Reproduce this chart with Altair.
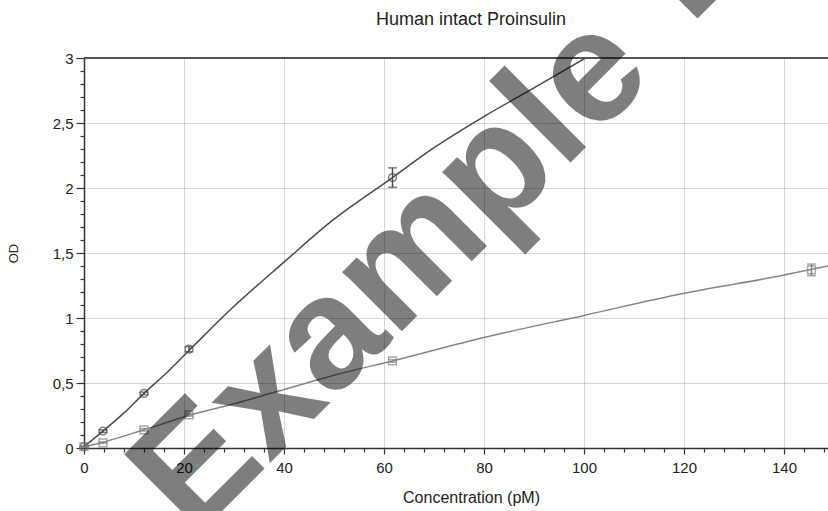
import altair as alt
import pandas as pd

# Measured points (circles = series 1, squares = series 2)
s1_x = [0, 3.8, 12, 21, 61.7]
s1_y = [0.01, 0.13, 0.42, 0.76, 2.08]
s1_err = [0.005, 0.01, 0.01, 0.02, 0.075]

s2_x = [0, 3.8, 12, 21, 61.7, 145.5]
s2_y = [0.01, 0.04, 0.14, 0.255, 0.67, 1.37]
s2_err = [0.005, 0.005, 0.01, 0.01, 0.01, 0.045]

# Fitted curves
fit1_x = [0, 3.8, 8, 12, 16, 21, 30, 40, 50, 61.7, 70, 80, 90, 100.3]
fit1_y = [0.01, 0.13, 0.27, 0.42, 0.56, 0.75, 1.09, 1.43, 1.76, 2.08, 2.31, 2.55, 2.77, 3.0]
fit2_x = [0, 3.8, 12, 21, 30, 40, 50, 61.7, 80, 100, 120, 140, 148.8]
fit2_y = [0.01, 0.045, 0.14, 0.25, 0.34, 0.45, 0.56, 0.67, 0.85, 1.02, 1.19, 1.33, 1.40]

x_ticks = list(range(0, 149, 4))
y_ticks = [round(i * 0.1, 1) for i in range(31)]

title_text = "Human intact Proinsulin"
x_title = "Concentration (pM)"
y_title = "OD"
watermark_1 = "Example"
watermark_2 = "Data"

FONT = "Liberation Sans"

p1 = pd.DataFrame({"x": s1_x, "y": s1_y, "lo": [a - b for a, b in zip(s1_y, s1_err)], "hi": [a + b for a, b in zip(s1_y, s1_err)]})
p2 = pd.DataFrame({"x": s2_x, "y": s2_y, "lo": [a - b for a, b in zip(s2_y, s2_err)], "hi": [a + b for a, b in zip(s2_y, s2_err)]})
f1 = pd.DataFrame({"x": fit1_x, "y": fit1_y})
f2 = pd.DataFrame({"x": fit2_x, "y": fit2_y})

xs = alt.Scale(domain=[0, 148.8], nice=False, zero=False)
ys = alt.Scale(domain=[0, 3], nice=False, zero=False)

x_axis = alt.Axis(
    values=x_ticks,
    tickCount=500,
    title=x_title,
    labelExpr="datum.value % 20 === 0 ? toString(datum.value) : ''",
    labelOverlap=False,
    labelFlush=False,
    labelFont=FONT, labelFontSize=15, labelColor="#222",
    labelPadding=6,
    tickSize={"condition": {"test": "datum.value % 20 === 0", "value": 6}, "value": 4},
    tickColor="#333", tickWidth=1.2,
    domainColor="#333", domainWidth=1.5,
    grid=True,
    gridColor="#aaaaaa", gridDash=[1, 1], gridWidth=1,
    gridOpacity={"condition": {"test": "datum.value % 20 === 0 && datum.value > 0", "value": 1}, "value": 0},
    titleFont=FONT, titleFontSize=16, titleFontWeight="normal", titleColor="#222",
    titleX=387, titleY=49, titleBaseline="middle",
)

y_major = "abs(datum.value*2 - round(datum.value*2)) < 1e-6"
y_axis = alt.Axis(
    values=y_ticks,
    tickCount=500,
    title=y_title,
    labelExpr=f"{y_major} ? replace(toString(datum.value), '.', ',') : ''",
    labelOverlap=False,
    labelFlush=False,
    labelFont=FONT, labelFontSize=15, labelColor="#222",
    labelPadding=3,
    tickSize={"condition": {"test": y_major, "value": 8}, "value": 4},
    tickColor="#333", tickWidth=1.2,
    domainColor="#333", domainWidth=1.5,
    grid=True,
    gridColor="#aaaaaa", gridDash=[1, 1], gridWidth=1,
    gridOpacity={"condition": {"test": f"{y_major} && datum.value > 0 && datum.value < 3", "value": 1}, "value": 0},
    titleFont=FONT, titleFontSize=13, titleFontWeight="normal", titleColor="#222",
    titleX=-71, titleY=195, titleAngle=-90, titleAlign="center", titleBaseline="middle",
)

C1 = "#4a4a4a"
C2 = "#858585"

line1 = alt.Chart(f1).mark_line(color=C1, strokeWidth=1.5, clip=True, interpolate="monotone").encode(
    x=alt.X("x:Q", scale=xs, axis=x_axis), y=alt.Y("y:Q", scale=ys, axis=y_axis))
line2 = alt.Chart(f2).mark_line(color=C2, strokeWidth=1.5, clip=True, interpolate="monotone").encode(x="x:Q", y="y:Q")

def points(df, shape, color):
    pts = alt.Chart(df).mark_point(shape=shape, size=60, filled=False, color=color, strokeWidth=1.5).encode(x="x:Q", y="y:Q")
    bar = alt.Chart(df).mark_rule(color=color, strokeWidth=1.5).encode(x="x:Q", y="lo:Q", y2="hi:Q")
    cap_lo = alt.Chart(df).mark_tick(color=color, size=9, thickness=1.5, orient="horizontal").encode(x="x:Q", y="lo:Q")
    cap_hi = alt.Chart(df).mark_tick(color=color, size=9, thickness=1.5, orient="horizontal").encode(x="x:Q", y="hi:Q")
    return bar + cap_lo + cap_hi + pts

top = alt.Chart(pd.DataFrame({"y": [3]})).mark_rule(color="#555", strokeWidth=2).encode(y="y:Q")

title = alt.Chart(pd.DataFrame({"t": [title_text]})).mark_text(
    font=FONT, fontSize=18, color="#222", align="center", baseline="middle"
).encode(text="t:N", x=alt.value(387), y=alt.value(-38))

wm_style = dict(font=FONT, fontSize=159, fontWeight="bold", color="#000", opacity=0.5,
                angle=315, align="left", baseline="middle")
wm1 = alt.Chart(pd.DataFrame({"t": [watermark_1]})).mark_text(**wm_style).encode(
    text="t:N", x=alt.value(76), y=alt.value(447))
wm2 = alt.Chart(pd.DataFrame({"t": [watermark_2]})).mark_text(**wm_style).encode(
    text="t:N", x=alt.value(572), y=alt.value(-66))

chart = alt.layer(line1, line2, points(p1, "circle", C1), points(p2, "square", C2), top, title, wm1, wm2).properties(
    width=744, height=390,
    autosize=alt.AutoSizeParams(type="none"),
    padding={"left": 84, "top": 58, "right": 0, "bottom": 63},
).configure_view(stroke=None).configure(background="white")

chart.save("out.html", embed_options={"renderer": "svg", "actions": False})
